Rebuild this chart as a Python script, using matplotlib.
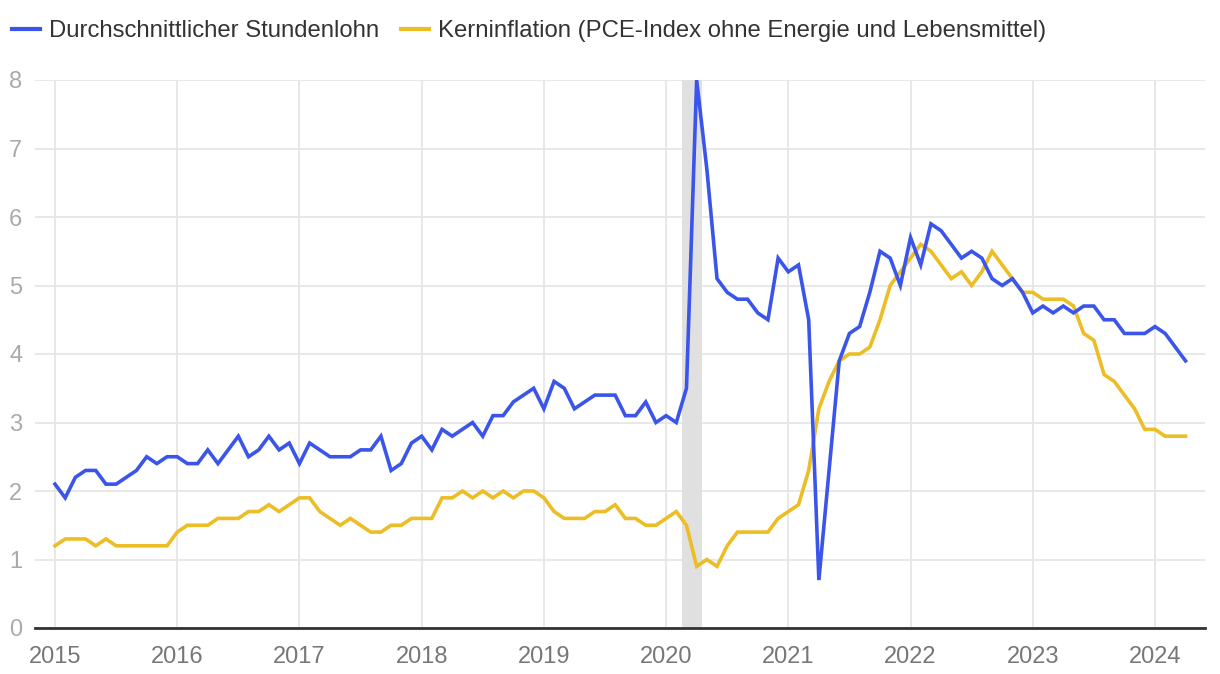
import matplotlib
matplotlib.use("Agg")
import matplotlib.pyplot as plt
from matplotlib.lines import Line2D

plt.rcParams['font.family'] = ['Liberation Sans', 'DejaVu Sans']

years = [2015, 2016, 2017, 2018, 2019, 2020, 2021, 2022, 2023, 2024]
year_labels = [str(y) for y in years]

wages = [
    2.1, 1.9, 2.2, 2.3, 2.3, 2.1, 2.1, 2.2, 2.3, 2.5, 2.4, 2.5,
    2.5, 2.4, 2.4, 2.6, 2.4, 2.6, 2.8, 2.5, 2.6, 2.8, 2.6, 2.7,
    2.4, 2.7, 2.6, 2.5, 2.5, 2.5, 2.6, 2.6, 2.8, 2.3, 2.4, 2.7,
    2.8, 2.6, 2.9, 2.8, 2.9, 3.0, 2.8, 3.1, 3.1, 3.3, 3.4, 3.5,
    3.2, 3.6, 3.5, 3.2, 3.3, 3.4, 3.4, 3.4, 3.1, 3.1, 3.3, 3.0,
    3.1, 3.0, 3.5, 8.0, 6.7, 5.1, 4.9, 4.8, 4.8, 4.6, 4.5, 5.4,
    5.2, 5.3, 4.5, 0.7, 2.3, 3.9, 4.3, 4.4, 4.9, 5.5, 5.4, 5.0,
    5.7, 5.3, 5.9, 5.8, 5.6, 5.4, 5.5, 5.4, 5.1, 5.0, 5.1, 4.9,
    4.6, 4.7, 4.6, 4.7, 4.6, 4.7, 4.7, 4.5, 4.5, 4.3, 4.3, 4.3,
    4.4, 4.3, 4.1, 3.9,
]

core_pce = [
    1.2, 1.3, 1.3, 1.3, 1.2, 1.3, 1.2, 1.2, 1.2, 1.2, 1.2, 1.2,
    1.4, 1.5, 1.5, 1.5, 1.6, 1.6, 1.6, 1.7, 1.7, 1.8, 1.7, 1.8,
    1.9, 1.9, 1.7, 1.6, 1.5, 1.6, 1.5, 1.4, 1.4, 1.5, 1.5, 1.6,
    1.6, 1.6, 1.9, 1.9, 2.0, 1.9, 2.0, 1.9, 2.0, 1.9, 2.0, 2.0,
    1.9, 1.7, 1.6, 1.6, 1.6, 1.7, 1.7, 1.8, 1.6, 1.6, 1.5, 1.5,
    1.6, 1.7, 1.5, 0.9, 1.0, 0.9, 1.2, 1.4, 1.4, 1.4, 1.4, 1.6,
    1.7, 1.8, 2.3, 3.2, 3.6, 3.9, 4.0, 4.0, 4.1, 4.5, 5.0, 5.2,
    5.4, 5.6, 5.5, 5.3, 5.1, 5.2, 5.0, 5.2, 5.5, 5.3, 5.1, 4.9,
    4.9, 4.8, 4.8, 4.8, 4.7, 4.3, 4.2, 3.7, 3.6, 3.4, 3.2, 2.9,
    2.9, 2.8, 2.8, 2.8,
]

recession = (61.55, 63.5)  # month index (Feb–Apr 2020)

labels = ["Durchschnittlicher Stundenlohn",
          "Kerninflation (PCE-Index ohne Energie und Lebensmittel)"]
blue = "#3B55EB"
yellow = "#EDBD25"

fig = plt.figure(figsize=(12.2, 6.74), dpi=100)
ax = fig.add_axes([35/1220, 46/674, 1170/1220, 548/674])

months = list(range(len(wages)))
ax.axvspan(recession[0], recession[1], color="#e0e0e0", lw=0, zorder=1)
ax.plot(months, wages, color=blue, lw=2.6, zorder=3, solid_joinstyle="miter")
ax.plot(months, core_pce, color=yellow, lw=2.6, zorder=2, solid_joinstyle="miter")

ax.set_xlim((35 - 55) / 10.185, (1205 - 55) / 10.185)
ax.set_ylim(0, 8)
ax.set_xticks([12 * i for i in range(len(years))])
ax.set_xticklabels(year_labels)
ax.set_yticks(range(0, 9))
ax.grid(True, color="#e6e6e6", lw=1.3, zorder=0)
ax.set_axisbelow(True)
for s in ["top", "right", "left"]:
    ax.spines[s].set_visible(False)
ax.spines["bottom"].set_color("#333333")
ax.spines["bottom"].set_linewidth(2)
ax.spines["bottom"].set_zorder(4)
ax.tick_params(axis="x", length=0, pad=13, labelsize=17, labelcolor="#777777")
ax.tick_params(axis="y", length=0, pad=9, labelsize=17, labelcolor="#aaaaaa")

handles = [Line2D([0], [0], color=blue, lw=3),
           Line2D([0], [0], color=yellow, lw=3)]
fig.legend(handles, labels, loc="center left",
           bbox_to_anchor=(12/1220, 1 - 31/674),
           ncol=2, frameon=False, fontsize=17.2, handlelength=1.17,
           handletextpad=0.36, columnspacing=0.95, labelcolor="#333333",
           borderpad=0, borderaxespad=0)

fig.savefig("out.png", dpi=100)
